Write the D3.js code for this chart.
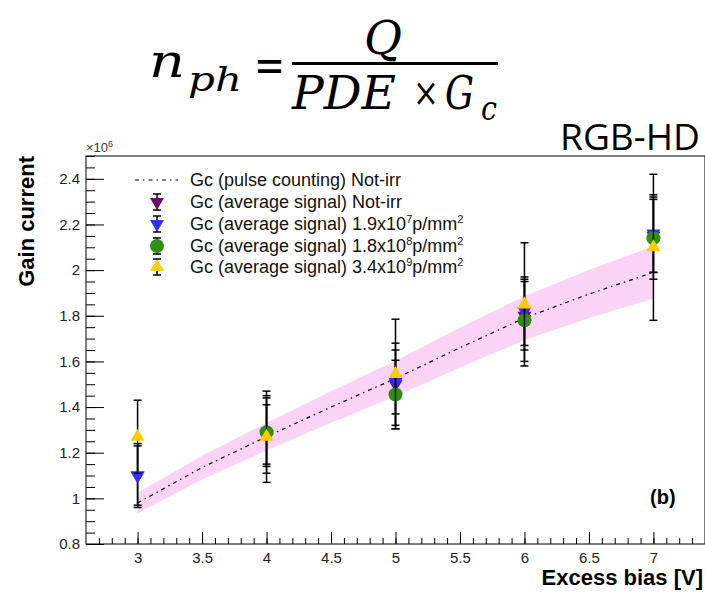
<!DOCTYPE html>
<html><head><meta charset="utf-8">
<script src="https://cdn.jsdelivr.net/npm/d3@7"></script>
<style>body{margin:0;background:#fff} svg{display:block}</style>
</head><body><svg id="c" width="705" height="592"></svg>
<script>
// ---------- data ----------
const biasV = [3, 4, 5, 6, 7];
const pulseX = [3, 3.5, 4, 4.5, 5, 5.5, 6, 6.5, 7];
const pulseGain = [0.98, 1.135, 1.27, 1.40, 1.525, 1.66, 1.79, 1.895, 1.99];
const pulseBand = [0.045, 0.052, 0.06, 0.069, 0.078, 0.087, 0.096, 0.105, 0.115];
const notIrrGain = [1.10, 1.28, 1.50, 1.80, 2.15];
const notIrrErr  = [0.13, 0.17, 0.18, 0.15, 0.16];
const irr19e7Gain = [1.10, 1.28, 1.51, 1.82, 2.16];
const irr19e7Err  = [0.14, 0.13, 0.14, 0.15, 0.17];
const irr18e8Gain = [null, 1.29, 1.455, 1.78, 2.14];
const irr18e8Err  = [null, 0.15, 0.15, 0.18, 0.18];
const irr34e9Gain = [1.27, 1.27, 1.545, 1.85, 2.10];
const irr34e9Err  = [0.16, 0.20, 0.24, 0.27, 0.32];
const xMajorTicks = [3, 3.5, 4, 4.5, 5, 5.5, 6, 6.5, 7];
const yMajorTicks = [0.8, 1, 1.2, 1.4, 1.6, 1.8, 2, 2.2, 2.4];
const legendLabels = [
  ["Gc (pulse counting) Not-irr"],
  ["Gc (average signal) Not-irr"],
  ["Gc (average signal) 1.9x10", "7", "p/mm", "2"],
  ["Gc (average signal) 1.8x10", "8", "p/mm", "2"],
  ["Gc (average signal) 3.4x10", "9", "p/mm", "2"]
];

// ---------- setup ----------
const svg = d3.select("#c");
const FONT = "'Liberation Sans', Arial, Helvetica, sans-serif";
const x = d3.scaleLinear().domain([2.6, 7.4]).range([86, 705]);
const y = d3.scaleLinear().domain([0.8, 2.5]).range([544, 156]);

svg.append("rect").attr("width", 705).attr("height", 592).attr("fill", "#fff");

// ---------- formula ----------
const SERIF = "'DejaVu Serif', 'Liberation Serif', serif";
const f = svg.append("g").attr("font-family", SERIF).attr("fill", "#000").attr("font-style", "italic");
function ft(xp, yp, size, len, str, normal) {
  const t = f.append("text").attr("x", xp).attr("y", yp).attr("font-size", size)
    .attr("textLength", len).attr("lengthAdjust", "spacingAndGlyphs").text(str);
  if (normal) t.attr("font-style", "normal");
  return t;
}
ft(149, 77, 46, 36, "n");
ft(188, 91, 34, 54, "ph");
ft(254, 81, 46, 31, "=", true);
ft(364, 54, 46, 38, "Q");
f.append("rect").attr("x", 292).attr("y", 62).attr("width", 206).attr("height", 3);
ft(292, 109, 46, 104, "PDE");
ft(413, 106, 40, 26, "×", true);
ft(445, 109, 46, 29, "G");
ft(481, 120, 34, 16, "c");

svg.append("text").attr("x", 700).attr("y", 150).attr("text-anchor", "end")
  .attr("font-family", "'Open Sans', 'Liberation Sans', sans-serif").attr("font-size", 36)
  .attr("textLength", 140).attr("lengthAdjust", "spacingAndGlyphs").attr("fill", "#000").text("RGB-HD");

// ---------- band & pulse line ----------
const bandData = pulseX.map((v, i) => ({x: v, g: pulseGain[i], b: pulseBand[i]}));
svg.append("path").datum(bandData)
  .attr("d", d3.area().x(d => x(d.x)).y0(d => y(d.g - d.b)).y1(d => y(d.g + d.b)))
  .attr("fill", "#fbd3f6");
svg.append("path").datum(bandData)
  .attr("d", d3.line().x(d => x(d.x)).y(d => y(d.g)))
  .attr("fill", "none").attr("stroke", "#000").attr("stroke-width", 1.2).attr("stroke-dasharray", "4,4,1.5,4");

// ---------- axes ----------
const minorY = d3.range(0.8, 2.501, 0.05).map(v => +v.toFixed(2));
const minorX = d3.range(2.7, 7.401, 0.1).map(v => +v.toFixed(1));

function styleAxis(g) {
  g.select(".domain").remove();
  g.selectAll("line").attr("stroke", "#000").attr("stroke-width", 1);
  g.selectAll("text").attr("font-family", FONT).attr("font-size", 15).attr("fill", "#222");
}
svg.append("g").attr("transform", "translate(86,0)")
  .call(d3.axisLeft(y).tickValues(minorY).tickSize(-9).tickFormat("")).call(styleAxis);
svg.append("g").attr("transform", "translate(86,0)")
  .call(d3.axisLeft(y).tickValues(yMajorTicks).tickSize(-18).tickPadding(6).tickFormat(d3.format("~g"))).call(styleAxis);
svg.append("g").attr("transform", "translate(0,544)")
  .call(d3.axisBottom(x).tickValues(minorX).tickSize(-6).tickFormat("")).call(styleAxis);
svg.append("g").attr("transform", "translate(0,544)")
  .call(d3.axisBottom(x).tickValues(xMajorTicks).tickSize(-12).tickPadding(8).tickFormat(d3.format("~g"))).call(styleAxis);

svg.append("rect").attr("x", 86).attr("y", 156).attr("width", 619).attr("height", 388)
  .attr("fill", "none").attr("stroke", "#000").attr("stroke-width", 1);

// exponent
const ex = svg.append("text").attr("x", 86).attr("y", 152).attr("font-family", FONT).attr("font-size", 13).attr("fill", "#333");
ex.append("tspan").text("×10");
ex.append("tspan").attr("dy", -5).attr("font-size", 9).text("6");

// axis titles
svg.append("text").attr("transform", "translate(34,156) rotate(-90)").attr("text-anchor", "end")
  .attr("font-family", FONT).attr("font-weight", "bold").attr("font-size", 22).attr("fill", "#000").text("Gain current");
svg.append("text").attr("x", 703).attr("y", 585).attr("text-anchor", "end")
  .attr("font-family", FONT).attr("font-weight", "bold").attr("font-size", 22).attr("fill", "#000").text("Excess bias [V]");
svg.append("text").attr("x", 650).attr("y", 504)
  .attr("font-family", FONT).attr("font-weight", "bold").attr("font-size", 20).attr("fill", "#000").text("(b)");

// ---------- series ----------
const series = [
  {g: notIrrGain, e: notIrrErr, color: "#6a0a6a", shape: "down"},
  {g: irr19e7Gain, e: irr19e7Err, color: "#3030ff", shape: "down"},
  {g: irr18e8Gain, e: irr18e8Err, color: "#2f8f12", shape: "circle"},
  {g: irr34e9Gain, e: irr34e9Err, color: "#ffcc00", shape: "up"}
];
function marker(sel, s) {
  if (s.shape === "circle") {
    sel.append("circle").attr("r", 7).attr("fill", s.color);
  } else {
    sel.append("path").attr("d", d3.symbol(d3.symbolTriangle, 85)())
      .attr("transform", s.shape === "down" ? "rotate(180)" : null).attr("fill", s.color);
  }
}
series.forEach(s => {
  const pts = biasV.map((v, i) => ({x: v, g: s.g[i], e: s.e[i]})).filter(d => d.g != null);
  const eb = svg.append("g").attr("stroke", "#000").attr("stroke-width", 1.5);
  pts.forEach(d => {
    const xx = x(d.x), y1 = y(d.g + d.e), y0 = y(d.g - d.e);
    eb.append("line").attr("x1", xx).attr("x2", xx).attr("y1", y1).attr("y2", y0);
    eb.append("line").attr("x1", xx - 4).attr("x2", xx + 4).attr("y1", y1).attr("y2", y1);
    eb.append("line").attr("x1", xx - 4).attr("x2", xx + 4).attr("y1", y0).attr("y2", y0);
  });
  pts.forEach(d => {
    const g = svg.append("g").attr("transform", `translate(${x(d.x)},${y(d.g)})`);
    marker(g, s);
  });
});

// ---------- legend ----------
const rows = [180, 202, 224, 246, 267];
const lg = svg.append("g");
lg.append("line").attr("x1", 135).attr("x2", 178).attr("y1", rows[0]).attr("y2", rows[0])
  .attr("stroke", "#000").attr("stroke-width", 1.2).attr("stroke-dasharray", "4,4,1.5,4");
series.forEach((s, i) => {
  const cy = rows[i + 1];
  const g = lg.append("g").attr("transform", `translate(157,${cy})`);
  g.append("line").attr("y1", -8).attr("y2", 8).attr("stroke", "#000").attr("stroke-width", 1.5);
  g.append("line").attr("x1", -4).attr("x2", 4).attr("y1", -8).attr("y2", -8).attr("stroke", "#000").attr("stroke-width", 1.5);
  g.append("line").attr("x1", -4).attr("x2", 4).attr("y1", 8).attr("y2", 8).attr("stroke", "#000").attr("stroke-width", 1.5);
  marker(g, s);
});
legendLabels.forEach((parts, i) => {
  const t = lg.append("text").attr("x", 190).attr("y", rows[i] + 6)
    .attr("font-family", FONT).attr("font-size", 18).attr("fill", "#111");
  t.append("tspan").text(parts[0]);
  if (parts.length > 1) {
    t.append("tspan").attr("dy", -7).attr("font-size", 11).text(parts[1]);
    t.append("tspan").attr("dy", 7).text(parts[2]);
    t.append("tspan").attr("dy", -7).attr("font-size", 11).text(parts[3]);
  }
});
</script></body></html>
